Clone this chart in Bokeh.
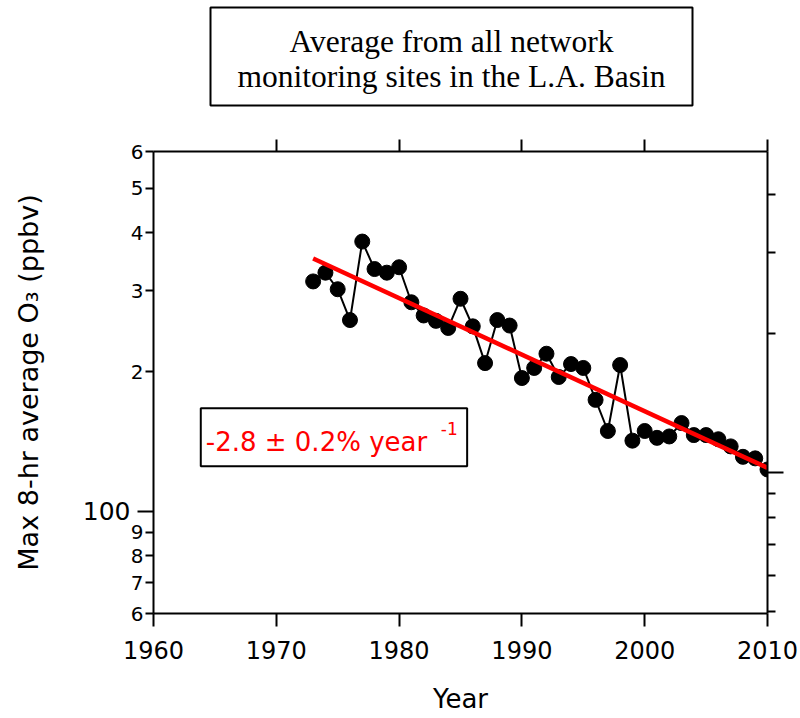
from bokeh.plotting import figure
from bokeh.models import (Range1d, LogAxis, LinearAxis, FixedTicker, Label, LogScale)
from bokeh.layouts import column
from bokeh.core.properties import value
from bokeh.embed import file_html
from bokeh.resources import INLINE

# ---- data ----
years = list(range(1973, 2011))
o3_ppbv = [314, 328, 302, 259, 383, 334, 328, 337, 283, 265,
           258, 249, 288, 251, 209, 259, 252, 194, 204, 219,
           195, 208, 204, 174, 149, 207, 142, 149, 144, 145,
           155, 146, 146, 143, 138, 131, 130, 123]
trend_years = [1973, 2010]
trend_ppbv = [352, 124]

x_ticks = [1960, 1970, 1980, 1990, 2000, 2010]
top_ticks = [1970, 1980, 1990, 2000, 2010]
y_small_ticks = [60, 70, 80, 90, 200, 300, 400, 500, 600]
y_small_labels = ["6", "7", "8", "9", "2", "3", "4", "5", "6"]
y_big_ticks = [100]
y_big_labels = ["100"]
right_major = [100]
right_minor = [50, 60, 70, 80, 90, 200, 300, 400, 500]

title_lines = ["Average from all network", "monitoring sites in the L.A. Basin"]
fit_text = "-2.8 ± 0.2% year"
fit_sup = "-1"

FONT = "DejaVu Sans"
TITLE_H = 110

# ---- title panel (pixel coordinates; its frame is aligned with the main frame) ----
ft = figure(width=800, height=TITLE_H, output_backend="svg", toolbar_location=None,
            x_range=Range1d(153, 767), y_range=Range1d(TITLE_H, 0),
            x_axis_type=None, y_axis_type=None, min_border=0)
ft.outline_line_color = None
ft.background_fill_color = "white"
ft.border_fill_color = "white"
ft.rect(x=[451], y=[56], width=[482], height=[98], fill_color=None,
        line_color="black", line_width=2)
ft.text(x=[451, 451], y=[41, 76], text=title_lines, text_align="center",
        text_baseline="middle", text_font=value("Liberation Serif"),
        text_font_size="31.5px", text_color="black")

# ---- main plot ----
p = figure(width=800, height=718 - TITLE_H, output_backend="svg", toolbar_location=None,
           x_range=Range1d(1960, 2010), y_range=Range1d(60, 600),
           y_axis_type="log", x_axis_type="linear",
           min_border_left=153, min_border_right=33,
           min_border_top=151 - TITLE_H, min_border_bottom=105)
p.outline_line_color = None
p.grid.visible = False
p.background_fill_color = "white"
p.border_fill_color = "white"

# bottom axis
xa = p.xaxis[0]
xa.ticker = FixedTicker(ticks=x_ticks, minor_ticks=[])
xa.axis_line_width = 2
xa.major_tick_line_width = 2
xa.major_tick_out = 13
xa.major_tick_in = 0
xa.minor_tick_out = 0
xa.major_label_text_font = FONT
xa.major_label_text_font_size = "24px"
xa.major_label_text_color = "black"
xa.major_label_standoff = 14
xa.axis_label = "Year"
xa.axis_label_text_font = FONT
xa.axis_label_text_font_size = "26px"
xa.axis_label_text_font_style = "normal"
xa.axis_label_text_color = "black"
xa.axis_label_standoff = 22

# left axis (inner): single-digit labels, long minor tick at 100
ya = p.yaxis[0]
ya.ticker = FixedTicker(ticks=y_small_ticks, minor_ticks=y_big_ticks)
ya.major_label_overrides = dict(zip(y_small_ticks, y_small_labels))
ya.axis_line_width = 2
ya.major_tick_line_width = 2
ya.minor_tick_line_width = 2
ya.major_tick_out = 8
ya.major_tick_in = 0
ya.minor_tick_out = 16
ya.minor_tick_in = 0
ya.major_label_text_font = FONT
ya.major_label_text_font_size = "20px"
ya.major_label_text_color = "black"
ya.major_label_standoff = -6

# left axis (outer): the "100" label and axis title
ya2 = LogAxis(ticker=FixedTicker(ticks=y_big_ticks, minor_ticks=[]),
              major_label_overrides=dict(zip(y_big_ticks, y_big_labels)),
              axis_line_color=None, major_tick_line_color=None,
              minor_tick_line_color=None, major_tick_out=0, major_tick_in=0,
              minor_tick_out=0, minor_tick_in=0,
              major_label_text_font=FONT, major_label_text_font_size="25px",
              major_label_text_color="black", major_label_standoff=-3,
              axis_label="Max 8-hr average O₃ (ppbv)",
              axis_label_text_font=FONT, axis_label_text_font_size="27px",
              axis_label_text_font_style="normal", axis_label_text_color="black",
              axis_label_standoff=36)
p.add_layout(ya2, "left")

# top axis
ta = LinearAxis(ticker=FixedTicker(ticks=top_ticks, minor_ticks=[]),
                major_label_overrides={t: "" for t in top_ticks},
                axis_line_width=2, major_label_standoff=0,
                major_tick_line_width=2, major_tick_out=12, major_tick_in=0,
                minor_tick_out=0)
p.add_layout(ta, "above")

# right axis (offset log scale)
p.extra_y_ranges = {"right": Range1d(60 / 1.21, 600 / 1.21)}
p.extra_y_scales = {"right": LogScale()}
ra = LogAxis(y_range_name="right",
             ticker=FixedTicker(ticks=right_major, minor_ticks=right_minor),
             major_label_overrides={t: "" for t in right_major},
             axis_line_width=2,
             major_tick_line_width=2, minor_tick_line_width=2,
             major_tick_out=16, major_tick_in=0, minor_tick_out=8, minor_tick_in=0)
p.add_layout(ra, "right")

# data
p.line(years, o3_ppbv, line_color="black", line_width=2)
p.scatter(years, o3_ppbv, size=15, fill_color="black", line_color="black")
p.line(trend_years, trend_ppbv, line_color="#ff0000", line_width=4.5)

# fit annotation box
p.add_layout(Label(x=1963.85, y=144.5, text=fit_text, text_align="left",
                   text_baseline="middle", text_font=FONT, text_font_size="26px",
                   text_color="#ff0000", border_line_color="black",
                   border_line_width=2, background_fill_color="white",
                   padding=dict(left=5, right=40, top=19, bottom=9)))
p.add_layout(Label(x=1983.4, y=151, text=fit_sup, text_align="left",
                   text_baseline="middle", text_font=FONT, text_font_size="17px",
                   text_color="#ff0000"))

layout = column(ft, p, spacing=0)
open("out.html", "w").write(file_html(layout, INLINE))
